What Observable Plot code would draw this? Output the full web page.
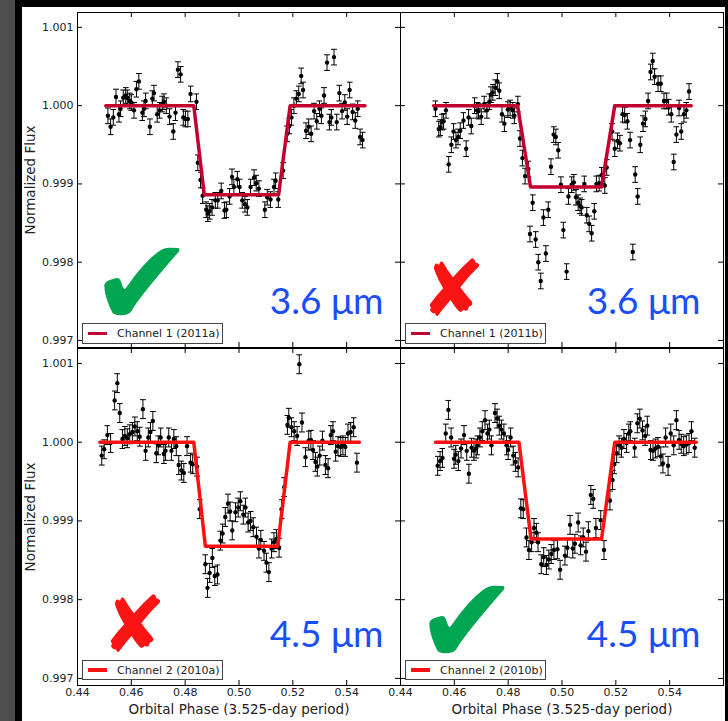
<!DOCTYPE html>
<html><head><meta charset="utf-8">
<script src="https://cdn.jsdelivr.net/npm/d3@7"></script>
<script src="https://cdn.jsdelivr.net/npm/@observablehq/plot@0.6"></script>
<style>
html,body{margin:0;padding:0;}
body{width:728px;height:721px;background:#000;position:relative;overflow:hidden;font-family:"DejaVu Sans",sans-serif;}
#band{position:absolute;left:0;top:0;width:15px;height:721px;background:#4d4d4d;}
#sheet{position:absolute;left:22px;top:7px;width:703px;height:714px;background:#fff;}
.panel{position:absolute;}
.legend{position:absolute;background:#fff;border:1px solid #444;box-sizing:border-box;font:11px "DejaVu Sans",sans-serif;color:#222;display:flex;align-items:center;}
.legend .sw{width:19px;height:3.5px;margin-left:5px;margin-right:10px;flex:none;}
</style></head><body>
<div id="band"></div><div id="sheet"></div>
<div id="root"></div>
<script>
// ---------- data ----------
const xTicks = [0.44,0.46,0.48,0.50,0.52,0.54,0.56];
const xLabels = [0.44,0.46,0.48,0.50,0.52,0.54];
const yTicks = [0.997,0.998,0.999,1.000,1.001];
const legendLabels = ["Channel 1 (2011a)","Channel 1 (2011b)","Channel 2 (2010a)","Channel 2 (2010b)"];
const wavelengths = ["3.6 μm","3.6 μm","4.5 μm","4.5 μm"];
const verdicts = ["✔","✘","✘","✔"];
const errors = [0.0001,0.0001,0.00012,0.00012];
const yLabel = "Normalized Flux";
const xLabel = "Orbital Phase (3.525-day period)";

const p1Phase = [0.4513,0.4523,0.4533,0.4543,0.4554,0.4560,0.4570,0.4579,0.4585,0.4594,0.4600,0.4610,0.4619,0.4628,0.4641,0.4647,0.4653,0.4669,0.4678,0.4684,0.4696,0.4705,0.4715,0.4721,0.4730,0.4742,0.4756,0.4764,0.4773,0.4783,0.4793,0.4801,0.4810,0.4820,0.4842,0.4847,0.4857,0.4865,0.4878,0.4884,0.4891,0.4900,0.4912,0.4921,0.4934,0.4946,0.4953,0.4965,0.4974,0.4981,0.4994,0.5002,0.5012,0.5022,0.5031,0.5043,0.5056,0.5064,0.5074,0.5096,0.5105,0.5117,0.5130,0.5136,0.5146,0.5164,0.5179,0.5187,0.5195,0.5204,0.5213,0.5222,0.5231,0.5238,0.5249,0.5259,0.5268,0.5279,0.5289,0.5299,0.5306,0.5316,0.5327,0.5336,0.5343,0.5353,0.5363,0.5373,0.5383,0.5393,0.5402,0.5411,0.5422,0.5432,0.5441,0.5450,0.5459];
const p1Flux = [0.99987,0.99973,0.99985,1.00011,0.99989,0.99996,1.00010,1.00013,1.00010,1.00006,1.00004,0.99994,1.00021,1.00031,0.99991,0.99996,1.00006,0.99973,1.00009,1.00016,0.99989,0.99994,1.00002,1.00005,1.00000,0.99986,0.99967,0.99991,1.00046,1.00040,0.99985,0.99983,0.99983,1.00015,1.00005,0.99927,0.99905,0.99885,0.99867,0.99862,0.99865,0.99870,0.99879,0.99879,0.99891,0.99866,0.99867,0.99884,0.99909,0.99896,0.99906,0.99896,0.99879,0.99874,0.99870,0.99896,0.99908,0.99901,0.99894,0.99867,0.99883,0.99880,0.99896,0.99904,0.99880,0.99917,0.99964,0.99974,0.99985,1.00000,1.00009,1.00015,1.00038,1.00020,0.99968,0.99973,0.99964,0.99993,0.99980,0.99996,0.99987,1.00013,1.00055,0.99979,0.99985,1.00062,0.99979,1.00016,0.99993,1.00004,0.99986,1.00020,0.99992,0.99981,0.99996,0.99960,0.99956];

const p2Phase = [0.4530,0.4542,0.4548,0.4554,0.4560,0.4569,0.4579,0.4589,0.4597,0.4606,0.4614,0.4622,0.4634,0.4644,0.4653,0.4663,0.4675,0.4684,0.4690,0.4700,0.4711,0.4721,0.4730,0.4736,0.4743,0.4752,0.4760,0.4767,0.4777,0.4786,0.4799,0.4807,0.4817,0.4823,0.4836,0.4844,0.4853,0.4863,0.4875,0.4881,0.4891,0.4902,0.4912,0.4921,0.4931,0.4940,0.4949,0.4959,0.4969,0.4977,0.4986,0.4996,0.5005,0.5017,0.5024,0.5036,0.5044,0.5052,0.5060,0.5067,0.5073,0.5083,0.5092,0.5101,0.5110,0.5120,0.5128,0.5138,0.5147,0.5159,0.5166,0.5186,0.5196,0.5206,0.5215,0.5225,0.5233,0.5243,0.5253,0.5263,0.5272,0.5281,0.5291,0.5301,0.5310,0.5320,0.5329,0.5337,0.5344,0.5357,0.5367,0.5379,0.5389,0.5396,0.5406,0.5415,0.5425,0.5435,0.5443,0.5453,0.5462,0.5472];
const p2Flux = [0.99996,0.99970,0.99972,0.99979,0.99980,0.99994,0.99925,0.99950,0.99967,0.99956,0.99960,0.99968,0.99981,0.99945,0.99985,0.99974,1.00000,0.99994,0.99993,0.99986,1.00002,0.99994,1.00005,1.00014,1.00017,1.00023,1.00031,1.00019,0.99989,0.99977,0.99995,0.99997,0.99994,0.99987,1.00002,0.99958,0.99933,0.99910,0.99919,0.99836,0.99876,0.99829,0.99800,0.99776,0.99857,0.99811,0.99867,0.99922,0.99963,0.99960,0.99943,0.99899,0.99841,0.99788,0.99884,0.99899,0.99902,0.99883,0.99876,0.99872,0.99870,0.99900,0.99860,0.99849,0.99837,0.99865,0.99900,0.99901,0.99911,0.99898,0.99921,0.99967,0.99945,0.99955,0.99952,0.99989,0.99988,0.99980,0.99956,0.99813,0.99912,0.99884,0.99950,0.99977,0.99983,1.00006,1.00043,1.00057,1.00037,1.00028,1.00028,1.00006,1.00006,0.99998,0.99989,0.99928,0.99963,0.99997,0.99967,0.99989,0.99994,1.00018];

const p3Phase = [0.4490,0.4499,0.4511,0.4523,0.4538,0.4548,0.4557,0.4567,0.4576,0.4585,0.4594,0.4604,0.4613,0.4622,0.4631,0.4643,0.4653,0.4663,0.4671,0.4680,0.4693,0.4700,0.4709,0.4721,0.4727,0.4739,0.4749,0.4758,0.4767,0.4776,0.4786,0.4795,0.4807,0.4820,0.4828,0.4844,0.4854,0.4875,0.4883,0.4891,0.4901,0.4910,0.4920,0.4931,0.4939,0.4949,0.4959,0.4967,0.4975,0.4987,0.4997,0.5005,0.5016,0.5024,0.5034,0.5043,0.5053,0.5065,0.5074,0.5081,0.5093,0.5102,0.5111,0.5121,0.5130,0.5139,0.5149,0.5158,0.5168,0.5180,0.5185,0.5195,0.5205,0.5216,0.5224,0.5234,0.5247,0.5259,0.5267,0.5275,0.5284,0.5291,0.5300,0.5310,0.5321,0.5331,0.5341,0.5349,0.5359,0.5368,0.5378,0.5386,0.5395,0.5405,0.5415,0.5426,0.5438];
const p3Flux = [0.99983,0.99991,1.00009,0.99999,1.00053,1.00075,1.00037,1.00004,1.00008,1.00005,1.00010,1.00013,1.00020,1.00014,1.00007,1.00042,0.99989,1.00006,1.00013,1.00027,0.99986,0.99996,1.00006,0.99985,0.99989,1.00006,0.99989,1.00004,0.99995,0.99971,0.99964,0.99961,0.99995,0.99974,0.99972,0.99969,0.99915,0.99845,0.99815,0.99834,0.99853,0.99830,0.99832,0.99875,0.99884,0.99905,0.99922,0.99912,0.99888,0.99911,0.99917,0.99925,0.99908,0.99917,0.99898,0.99900,0.99892,0.99880,0.99865,0.99876,0.99862,0.99847,0.99835,0.99865,0.99873,0.99877,0.99866,0.99915,0.99943,1.00022,1.00031,1.00019,1.00014,1.00008,1.00099,1.00025,0.99981,1.00002,1.00003,0.99990,0.99975,0.99969,0.99983,1.00002,0.99971,0.99967,1.00009,1.00014,0.99988,0.99995,0.99994,0.99996,0.99994,1.00011,1.00013,1.00019,0.99974];

const p4Phase = [0.4538,0.4547,0.4556,0.4568,0.4578,0.4588,0.4599,0.4605,0.4615,0.4625,0.4636,0.4646,0.4654,0.4664,0.4673,0.4681,0.4686,0.4695,0.4704,0.4714,0.4723,0.4730,0.4738,0.4751,0.4759,0.4767,0.4775,0.4784,0.4794,0.4800,0.4809,0.4819,0.4827,0.4837,0.4847,0.4856,0.4868,0.4877,0.4887,0.4896,0.4905,0.4911,0.4923,0.4932,0.4942,0.4951,0.4960,0.4970,0.4983,0.4993,0.5011,0.5020,0.5030,0.5040,0.5048,0.5060,0.5069,0.5079,0.5089,0.5098,0.5107,0.5116,0.5126,0.5144,0.5156,0.5178,0.5188,0.5194,0.5203,0.5212,0.5221,0.5230,0.5240,0.5248,0.5254,0.5270,0.5280,0.5289,0.5299,0.5309,0.5317,0.5329,0.5338,0.5347,0.5357,0.5367,0.5375,0.5385,0.5394,0.5404,0.5415,0.5425,0.5435,0.5443,0.5452,0.5462,0.5472,0.5481,0.5493];
const p4Flux = [0.99970,0.99976,0.99980,1.00011,1.00041,1.00006,0.99979,0.99984,0.99976,0.99992,1.00009,0.99989,0.99960,0.99993,0.99989,0.99992,0.99996,1.00006,1.00014,1.00028,1.00011,1.00016,0.99996,1.00037,1.00030,1.00021,1.00016,1.00011,0.99996,0.99990,1.00006,0.99983,0.99975,0.99968,0.99916,0.99915,0.99879,0.99863,0.99873,0.99891,0.99885,0.99873,0.99845,0.99854,0.99844,0.99851,0.99858,0.99863,0.99864,0.99838,0.99856,0.99866,0.99895,0.99865,0.99871,0.99898,0.99869,0.99879,0.99861,0.99887,0.99933,0.99928,0.99891,0.99901,0.99863,0.99926,0.99952,0.99972,0.99986,0.99996,0.99993,1.00004,0.99999,1.00011,1.00014,0.99993,1.00024,1.00030,1.00015,1.00008,1.00021,0.99990,0.99989,0.99992,0.99994,0.99982,0.99973,1.00006,0.99970,1.00011,0.99996,1.00028,1.00003,0.99998,0.99995,0.99997,0.99999,1.00014,0.99993];

// transit model fits (trapezoids)
const m1Phase = [0.4505,0.4832,0.4871,0.5147,0.5190,0.5468];
const m1Flux  = [1.0,1.0,0.99886,0.99886,1.0,1.0];
const m2Phase = [0.4523,0.4835,0.4883,0.5147,0.5196,0.5480];
const m2Flux  = [1.0,1.0,0.99896,0.99896,1.0,1.0];
const m3Phase = [0.4483,0.4832,0.4875,0.5144,0.5190,0.5447];
const m3Flux  = [1.0,1.0,0.99868,0.99868,1.0,1.0];
const m4Phase = [0.4530,0.4840,0.4885,0.5147,0.5196,0.5499];
const m4Flux  = [1.0,1.0,0.99877,0.99877,1.0,1.0];

// ---------- layout / style ----------
const lineColors = ["#c4002f","#c4002f","#ff1010","#ff1010"];
const verdictColors = ["#00a651","#fa1414","#fa1414","#00a651"];
const blue = "#1a4ef8";
const layouts = [
  {left:0,   top:0,   w:401, h:350, ml:77, mr:1, mt:12, mb:3,  showY:true,  showX:false, wdx:-17, wdy:-34, vdx:64.5, vdy:-22, vsize:124, lg:{l:82,t:323,h:21}},
  {left:399, top:0,   w:329, h:350, ml:1,  mr:5, mt:12, mb:3,  showY:false, showX:false, wdx:-23, wdy:-34, vdx:52.5, vdy:-32, vsize:78, lg:{l:405,t:323,h:21}},
  {left:0,   top:345, w:401, h:376, ml:77, mr:1, mt:3,  mb:36, showY:true,  showX:true,  wdx:-17, wdy:-39, vdx:56.5, vdy:-34, vsize:78, lg:{l:82,t:660,h:20}},
  {left:399, top:345, w:329, h:376, ml:1,  mr:5, mt:3,  mb:36, showY:false, showX:true,  wdx:-23, wdy:-39, vdx:66.5, vdy:-22, vsize:124, lg:{l:405,t:660,h:20}}
];
const series = [[p1Phase,p1Flux,m1Phase,m1Flux],[p2Phase,p2Flux,m2Phase,m2Flux],[p3Phase,p3Flux,m3Phase,m3Flux],[p4Phase,p4Flux,m4Phase,m4Flux]];

const root = document.getElementById("root");
series.forEach(([ph, fl, mp, mf], i) => {
  const L = layouts[i];
  const err = errors[i];
  const pts = d3.range(Math.min(ph.length, fl.length)).map(j => ({p: ph[j], f: fl[j]}));
  const model = d3.range(Math.min(mp.length, mf.length)).map(j => ({p: mp[j], f: mf[j]}));
  const pw = L.w - L.ml - L.mr, phh = L.h - L.mt - L.mb;
  const marks = [
    Plot.text([verdicts[i]], {frameAnchor: "bottom-left", textAnchor: "middle", lineAnchor: "bottom", dx: L.vdx, dy: L.vdy, fontSize: L.vsize, fontFamily: "DejaVu Sans", fill: verdictColors[i]}),
    Plot.text([wavelengths[i]], {frameAnchor: "bottom-right", textAnchor: "end", lineAnchor: "bottom", dx: L.wdx, dy: L.wdy, fontSize: 37, fontFamily: "Lato", fill: blue}),
    Plot.link(pts, {x1: "p", x2: "p", y1: d => d.f - err, y2: d => d.f + err, stroke: "#000", strokeWidth: 1, markerStart: "tick", markerEnd: "tick"}),
    Plot.dot(pts, {x: "p", y: "f", r: 2.2, fill: "#000", stroke: "none"}),
    Plot.line(model, {x: "p", y: "f", stroke: lineColors[i], strokeWidth: 3.5}),
    Plot.tickX(xTicks, {x: d => d, insetTop: phh - 5, stroke: "#000"}),
    Plot.tickX(xTicks, {x: d => d, insetBottom: phh - 5, stroke: "#000"}),
    Plot.tickY(yTicks, {y: d => d, insetRight: pw - 5, stroke: "#000"}),
    Plot.tickY(yTicks, {y: d => d, insetLeft: pw - 5, stroke: "#000"}),
    Plot.frame({stroke: "#000", strokeWidth: 1})
  ];
  if (L.showY) {
    marks.push(Plot.axisY({ticks: yTicks, anchor: "left", tickSize: 0, tickPadding: 4, tickFormat: d3.format(".3f"), label: null, fontSize: 11, fill: "#222"}));
    marks.push(Plot.text([yLabel], {frameAnchor: "left", textAnchor: "middle", lineAnchor: "middle", rotate: -90, dx: -47, fontSize: 13.5, fontFamily: "DejaVu Sans", fill: "#222"}));
  }
  if (L.showX) {
    marks.push(Plot.axisX({ticks: xLabels, anchor: "bottom", tickSize: 0, tickPadding: 3, tickFormat: d3.format(".2f"), label: null, fontSize: 11, fill: "#222"}));
    marks.push(Plot.text([xLabel], {frameAnchor: "bottom", textAnchor: "middle", lineAnchor: "middle", dy: 24, fontSize: 13.5, fontFamily: "DejaVu Sans", fill: "#222"}));
  }
  const chart = Plot.plot({
    width: L.w, height: L.h,
    marginLeft: L.ml, marginRight: L.mr, marginTop: L.mt, marginBottom: L.mb,
    style: {background: "transparent", overflow: "visible", fontFamily: "DejaVu Sans", fontSize: "11px", color: "#222"},
    x: {domain: [0.44, 0.56], axis: L.showX ? undefined : null},
    y: {domain: [0.99691, 1.00119], axis: L.showY ? undefined : null},
    marks
  });
  const div = document.createElement("div");
  div.className = "panel";
  div.style.left = L.left + "px"; div.style.top = L.top + "px";
  div.appendChild(chart);
  root.appendChild(div);

  const lg = document.createElement("div");
  lg.className = "legend";
  lg.style.left = L.lg.l + "px"; lg.style.top = L.lg.t + "px";
  lg.style.width = "141px"; lg.style.height = L.lg.h + "px";
  const sw = document.createElement("div");
  sw.className = "sw"; sw.style.background = lineColors[i];
  const tx = document.createElement("span");
  tx.textContent = legendLabels[i];
  lg.appendChild(sw); lg.appendChild(tx);
  root.appendChild(lg);
});
</script>
</body></html>
